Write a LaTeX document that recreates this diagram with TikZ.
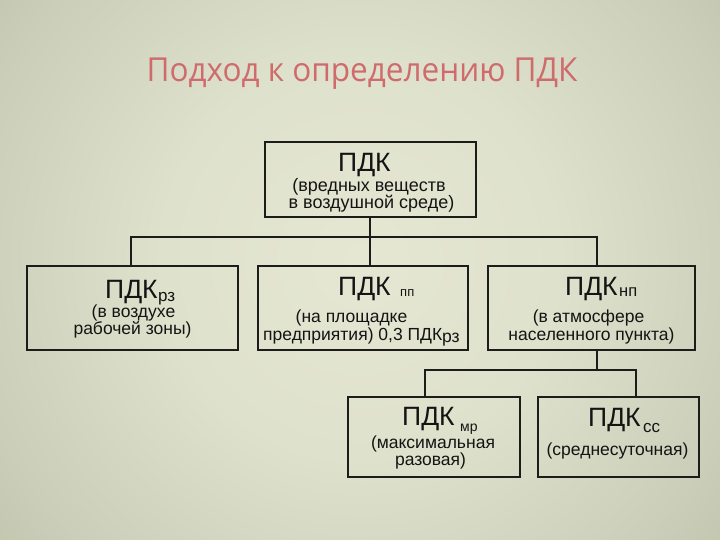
\documentclass[tikz,border=0pt]{standalone}
\usepackage{fontspec}
\setmainfont{Liberation Sans}
\newfontfamily\titlefont[FakeStretch=0.955]{Open Sans}
\definecolor{bgA}{HTML}{E5E7D3}
\definecolor{bgB}{HTML}{DEE1CB}
\definecolor{bgC}{HTML}{CBCEB8}
\definecolor{bgD}{HTML}{BABEA6}
\definecolor{bgE}{HTML}{A2A692}
\definecolor{bgF}{HTML}{878B78}
\definecolor{boxline}{HTML}{1C1C1A}
\definecolor{inkc}{HTML}{141414}
\definecolor{titlec}{HTML}{CF6B6C}
\pgfdeclareradialshading{bgshade}{\pgfpoint{0bp}{0bp}}{color(0bp)=(bgA); color(11bp)=(bgB); color(22bp)=(bgC); color(30bp)=(bgD); color(40bp)=(bgE); color(50bp)=(bgF)}
\tikzset{
  box/.style={draw=boxline, line width=2.4bp, rectangle, inner sep=0pt},
  conn/.style={draw=boxline, line width=2bp},
  pdk/.style={font=\fontsize{26.5bp}{28bp}\selectfont, text=inkc, inner sep=0pt, anchor=base west, text height=0.72em, text depth=0.12em},
  txt/.style={font=\fontsize{17.5bp}{18bp}\selectfont, text=inkc, inner sep=0pt, anchor=base, text height=0.7em, text depth=0.14em},
  txtw/.style={font=\fontsize{17.5bp}{18bp}\selectfont, text=inkc, inner sep=0pt, anchor=base west, text height=0.7em, text depth=0.14em},
  txtbig/.style={font=\fontsize{18bp}{19bp}\selectfont, text=inkc, inner sep=0pt, anchor=base, text height=0.7em, text depth=0.14em},
  subtxt/.style={font=\fontsize{#1}{#1}\selectfont, text=inkc, inner sep=0pt, anchor=base west, text height=0.55em, text depth=0.15em},
}
\begin{document}
\begin{tikzpicture}[x=1bp,y=-1bp]
\useasboundingbox (0,0) rectangle (720,540);
\begin{scope}
\clip (0,0) rectangle (720,540);
\shade[shading=bgshade] (-90,-190) rectangle (810,710);
\end{scope}
% title
\node[font=\titlefont\fontsize{33bp}{35bp}\selectfont, text=titlec, inner sep=0pt, anchor=base] (title) at (362,82) {Подход к определению ПДК};
% boxes
\node[box, minimum width=211bp, minimum height=75bp] (n0) at (370.5,179.5) {};
\node[box, minimum width=211bp, minimum height=84bp] (n1) at (132.5,308) {};
\node[box, minimum width=210bp, minimum height=84bp] (n2) at (363,308) {};
\node[box, minimum width=207bp, minimum height=84bp] (n3) at (591.5,308) {};
\node[box, minimum width=172bp, minimum height=80bp] (n4) at (434,437) {};
\node[box, minimum width=161bp, minimum height=80bp] (n5) at (618.5,437) {};
% connectors
\coordinate (j0) at ([xshift=-1bp]n0.south |- 0,237);
\draw[conn] ([xshift=-1bp]n0.south) -- (j0);
\draw[conn] ([xshift=-1.5bp]n1.north) |- ([xshift=5.5bp]n3.north |- j0) -- ([xshift=5.5bp]n3.north);
\draw[conn] (j0) -- (j0 |- n2.north);
\coordinate (j1) at ([xshift=5.5bp]n3.south |- 0,370);
\draw[conn] ([xshift=5.5bp]n3.south) -- (j1);
\draw[conn] ([xshift=-9bp]n4.north) |- ([xshift=17.5bp]n5.north |- j1) -- ([xshift=17.5bp]n5.north);
% texts top
\node[pdk] (t0a) at (338,171.5) {ПДК};
\node[txtbig] (t0b) at (369,191.5) {(вредных веществ};
\node[txtbig] (t0c) at (371.5,208.5) {в воздушной среде)};
% box 1
\node[pdk] (t1a) at (105,298.5) {ПДК};
\node[subtxt=17bp] (t1s) at (158,301.5) {рз};
\node[txt] (t1b) at (133.5,317.5) {(в воздухе};
\node[txt] (t1c) at (132.5,334.5) {рабочей зоны)};
% box 2
\node[pdk] (t2a) at (338,295) {ПДК};
\node[subtxt=13bp] (t2s) at (400,296) {пп};
\node[txt] (t2b) at (351.5,322) {(на площадке};
\node[txtw] (t2c) at (263,340) {предприятия) 0,3 ПДК\raisebox{-2.5bp}{рз}};
% box 3
\node[pdk] (t3a) at (565,295) {ПДК};
\node[subtxt=16.5bp] (t3s) at (619,296) {нп};
\node[txt] (t3b) at (588.5,322) {(в атмосфере};
\node[txt] (t3c) at (591.5,340) {населенного пункта)};
% box 4
\node[pdk] (t4a) at (402,425) {ПДК};
\node[subtxt=14bp] (t4s) at (460,431) {мр};
\node[txt] (t4b) at (433,448) {(максимальная};
\node[txt] (t4c) at (430.5,465) {разовая)};
% box 5
\node[pdk] (t5a) at (588,426) {ПДК};
\node[subtxt=17bp] (t5s) at (643,432) {сс};
\node[txt] (t5b) at (617.5,455) {(среднесуточная)};
\end{tikzpicture}
\end{document}
